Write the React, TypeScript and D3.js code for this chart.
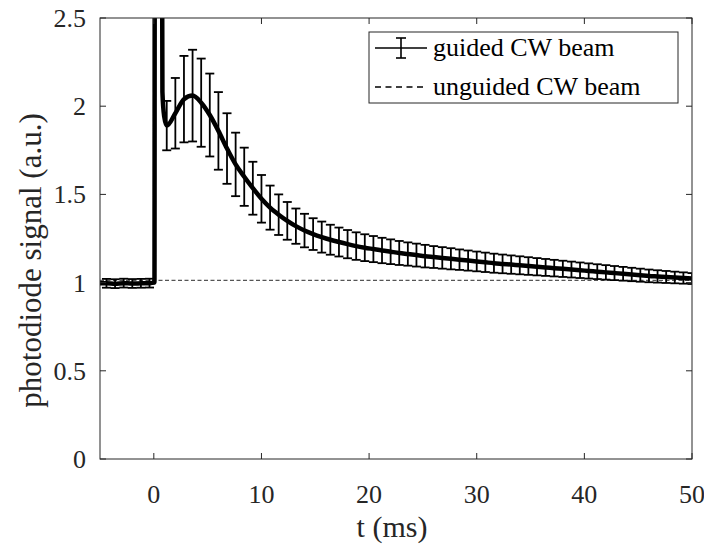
import React from "react";
import * as d3 from "d3";

// ---- data ----
const xTicks = [0, 10, 20, 30, 40, 50];
const yTicks = [0, 0.5, 1, 1.5, 2, 2.5];
const yTickLabels = ["0", "0.5", "1", "1.5", "2", "2.5"];

// error-bar sample times (ms)
const barT = [
  -4.4, -3.6, -2.8, -2.0, -1.2, -0.4,
  1.2, 2.0, 2.8, 3.6, 4.4, 5.2, 6.0, 6.8, 7.6, 8.4, 9.2, 10.0,
  10.8, 11.6, 12.4, 13.2, 14.0, 14.8, 15.6, 16.4, 17.2, 18.0, 18.8, 19.6,
  20.4, 21.2, 22.0, 22.8, 23.6, 24.4, 25.2, 26.0, 26.8, 27.6, 28.4, 29.2,
  30.0, 30.8, 31.6, 32.4, 33.2, 34.0, 34.8, 35.6, 36.4, 37.2, 38.0, 38.8,
  39.6, 40.4, 41.2, 42.0, 42.8, 43.6, 44.4, 45.2, 46.0, 46.8, 47.6, 48.4,
  49.2, 50.0,
];
// guided CW beam mean signal
const barMean = [
  0.996, 0.994, 0.997, 0.995, 0.996, 0.997,
  1.89, 1.96, 2.04, 2.06, 2.02, 1.95, 1.86, 1.76, 1.67, 1.6, 1.535, 1.475,
  1.425, 1.385, 1.35, 1.32, 1.295, 1.275, 1.258, 1.243, 1.23, 1.218, 1.207, 1.198,
  1.19, 1.182, 1.175, 1.168, 1.162, 1.156, 1.15, 1.145, 1.14, 1.135, 1.13, 1.125,
  1.12, 1.115, 1.11, 1.106, 1.102, 1.098, 1.094, 1.09, 1.086, 1.082, 1.078, 1.074,
  1.07, 1.066, 1.062, 1.058, 1.054, 1.05, 1.046, 1.042, 1.038, 1.035, 1.032, 1.029,
  1.026, 1.023,
];
// half-height of error bars
const barErr = [
  0.025, 0.025, 0.025, 0.025, 0.025, 0.025,
  0.14, 0.2, 0.245, 0.26, 0.25, 0.235, 0.22, 0.2, 0.18, 0.165, 0.15, 0.135,
  0.125, 0.115, 0.107, 0.1, 0.095, 0.09, 0.088, 0.085, 0.082, 0.08, 0.078, 0.076,
  0.074, 0.072, 0.07, 0.068, 0.066, 0.065, 0.064, 0.062, 0.061, 0.06, 0.058, 0.057,
  0.056, 0.055, 0.054, 0.053, 0.052, 0.051, 0.05, 0.049, 0.048, 0.047, 0.046, 0.045,
  0.044, 0.043, 0.042, 0.041, 0.04, 0.039, 0.038, 0.037, 0.036, 0.035, 0.034, 0.033,
  0.032, 0.031,
];
// extra points of the guided trace (start and the switch-on spike)
const spikeT = [-5, 0.06, 0.1, 0.72, 0.8, 0.97];
const spikeV = [0.996, 1.0, 4.0, 4.0, 2.08, 1.94];

// unguided CW beam (flat reference)
const unguidedT = [-5, 50];
const unguidedV = [1.013, 1.013];

const legendLabels = ["guided CW beam", "unguided CW beam"];

const W = 704;
const H = 544;
const L = 100, R = 692, T = 18, B = 459;
const AX = "#262626";

function Txt(props: any) {
  const { children, ...rest } = props;
  return (
    <text fontFamily="Liberation Serif" style={{ fontFamily: '"Liberation Serif"' }} {...rest}>
      {children}
    </text>
  );
}

export default function App() {
  const x = d3.scaleLinear().domain([-5, 50]).range([L, R]);
  const y = d3.scaleLinear().domain([0, 2.5]).range([B, T]);

  const pts: [number, number][] = [
    ...barT.map((t, i) => [t, barMean[i]] as [number, number]),
    ...spikeT.map((t, i) => [t, spikeV[i]] as [number, number]),
  ].sort((a, b) => a[0] - b[0]);

  const line = d3
    .line<[number, number]>()
    .x((d) => x(d[0]))
    .y((d) => y(d[1]))
    .curve(d3.curveMonotoneX);

  const uLine = d3
    .line<number>()
    .x((d, i) => x(unguidedT[i]))
    .y((d) => y(d));

  const cap = 4.5;
  const tick = 6;

  return (
    <svg width={W} height={H} style={{ position: "absolute", left: 0, top: 0 }}>
      <style>{`text { font-family: "Liberation Serif", "Tinos", "Times New Roman", serif; }`}</style>
      <defs>
        <clipPath id="plotclip">
          <rect x={L} y={T} width={R - L} height={B - T} />
        </clipPath>
      </defs>
      <rect x={0} y={0} width={W} height={H} fill="#fff" />

      <g clipPath="url(#plotclip)">
        <path
          d={uLine(unguidedV) || ""}
          fill="none"
          stroke="#555"
          strokeWidth={1.2}
          strokeDasharray="4 2.5"
        />
        <g stroke="#000" strokeWidth={1.8} fill="none">
          {barT.map((t, i) => {
            const cx = x(t);
            const y1 = y(barMean[i] + barErr[i]);
            const y2 = y(barMean[i] - barErr[i]);
            return (
              <g key={i}>
                <line x1={cx} x2={cx} y1={y1} y2={y2} />
                <line x1={cx - cap} x2={cx + cap} y1={y1} y2={y1} />
                <line x1={cx - cap} x2={cx + cap} y1={y2} y2={y2} />
              </g>
            );
          })}
        </g>
        <path
          d={line(pts) || ""}
          fill="none"
          stroke="#000"
          strokeWidth={4.5}
          strokeLinejoin="round"
        />
      </g>

      {/* axes box */}
      <rect x={L} y={T} width={R - L} height={B - T} fill="none" stroke={AX} strokeWidth={1} />
      <g stroke={AX} strokeWidth={1}>
        {xTicks.map((t) => (
          <g key={"xt" + t}>
            <line x1={x(t)} x2={x(t)} y1={B} y2={B - tick} />
            <line x1={x(t)} x2={x(t)} y1={T} y2={T + tick} />
          </g>
        ))}
        {yTicks.map((v) => (
          <g key={"yt" + v}>
            <line x1={L} x2={L + tick} y1={y(v)} y2={y(v)} />
            <line x1={R} x2={R - tick} y1={y(v)} y2={y(v)} />
          </g>
        ))}
      </g>
      {xTicks.map((t) => (
        <Txt key={"xl" + t} x={x(t)} y={503} textAnchor="middle" fontSize={26} fill={AX}>
          {t}
        </Txt>
      ))}
      {yTicks.map((v, i) => (
        <Txt key={"yl" + v} x={86} y={y(v) + 9} textAnchor="end" fontSize={26} fill={AX}>
          {yTickLabels[i]}
        </Txt>
      ))}
      <Txt x={(L + R) / 2 - 4} y={537} textAnchor="middle" fontSize={30} fill={AX}>
        t (ms)
      </Txt>
      <Txt
        transform={`translate(41, ${(T + B) / 2 + 22}) rotate(-90)`}
        textAnchor="middle"
        fontSize={31}
        fill={AX}
      >
        photodiode signal (a.u.)
      </Txt>

      {/* legend */}
      <g>
        <rect x={369} y={32} width={309} height={71} fill="#fff" stroke={AX} strokeWidth={1} />
        <line x1={375} x2={427} y1={48} y2={48} stroke="#000" strokeWidth={1.6} />
        <line x1={401} x2={401} y1={38} y2={58} stroke="#000" strokeWidth={1.6} />
        <line x1={396} x2={406} y1={38} y2={38} stroke="#000" strokeWidth={1.6} />
        <line x1={396} x2={406} y1={58} y2={58} stroke="#000" strokeWidth={1.6} />
        <line
          x1={375}
          x2={427}
          y1={87}
          y2={87}
          stroke="#000"
          strokeWidth={1.5}
          strokeDasharray="6 4.5"
        />
        <Txt x={433} y={56} fontSize={26} fill="#000">
          {legendLabels[0]}
        </Txt>
        <Txt x={433} y={95} fontSize={26} fill="#000">
          {legendLabels[1]}
        </Txt>
      </g>
    </svg>
  );
}
